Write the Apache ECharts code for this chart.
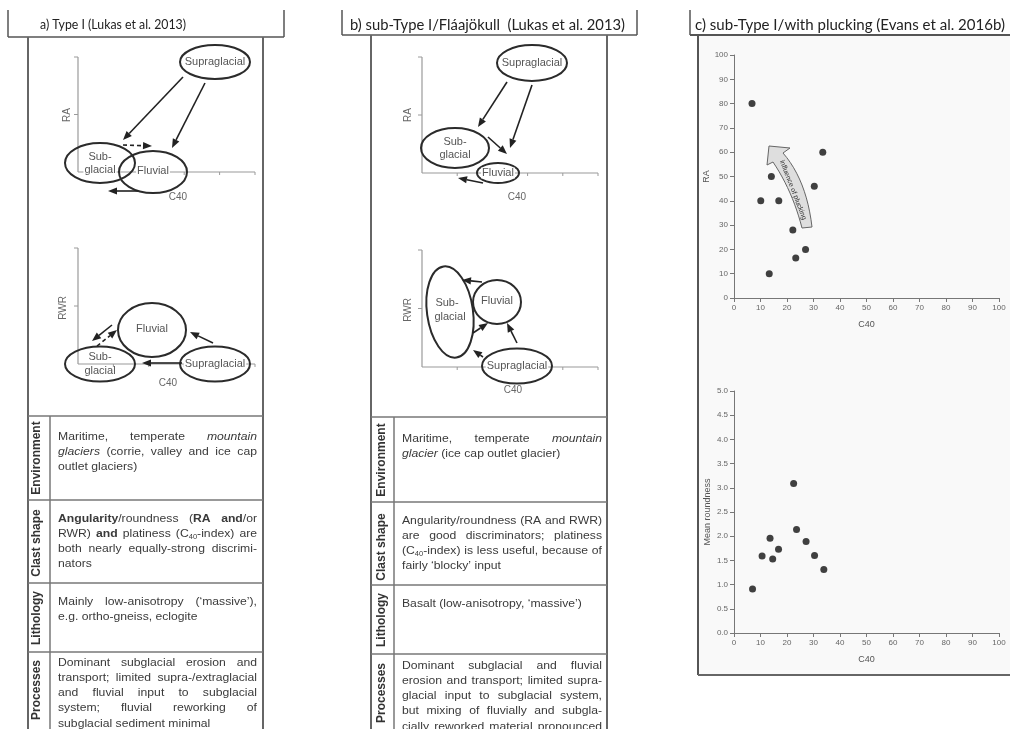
<!DOCTYPE html>
<html><head><meta charset="utf-8">
<script src="https://cdn.jsdelivr.net/npm/echarts@6/dist/echarts.min.js"></script>
<style>html,body{margin:0;padding:0;background:#fff}#c{width:1010px;height:729px}</style>
</head><body><div id="c"></div>
<script>
// ---------- data ----------
const panelTitles = ['a) Type I (Lukas et al. 2013)', 'b) sub-Type I/Fláajökull  (Lukas et al. 2013)', 'c) sub-Type I/with plucking (Evans et al. 2016b)'];
const rowLabels = ['Environment', 'Clast shape', 'Lithology', 'Processes'];
// panel c scatter values
const c40Top = [6.8, 14.1, 10.1, 16.9, 22.2, 23.3, 27.0, 13.3, 30.3, 33.5];
const raValues = [80, 50, 40, 40, 28, 16.5, 20, 10, 46, 60];
const c40Bottom = [7.0, 10.6, 13.6, 14.6, 16.8, 22.5, 23.6, 27.2, 30.4, 33.9];
const meanRoundness = [0.91, 1.59, 1.96, 1.53, 1.73, 3.09, 2.14, 1.89, 1.60, 1.31];
// tick labels
const c40Ticks = [0, 10, 20, 30, 40, 50, 60, 70, 80, 90, 100];
const raTicks = [0, 10, 20, 30, 40, 50, 60, 70, 80, 90, 100];
const roundTicks = [0.0, 0.5, 1.0, 1.5, 2.0, 2.5, 3.0, 3.5, 4.0, 4.5, 5.0];
const axisNames = {x: 'C40', yTop: 'RA', yBottom: 'Mean roundness'};
const arrowLabel = 'influence of plucking';
// table texts (# bold, * italic, ~ subscript)
const tableA = [
  ['Maritime, temperate *mountain*', '*glaciers* (corrie, valley and ice cap', 'outlet glaciers)'],
  ['#Angularity#/roundness (#RA and#/or', 'RWR) #and# platiness (C~40~-index) are', 'both nearly equally-strong discrimi-', 'nators'],
  ['Mainly low-anisotropy (‘massive’),', 'e.g. ortho-gneiss, eclogite'],
  ['Dominant subglacial erosion and', 'transport; limited supra-/extraglacial', 'and fluvial input to subglacial', 'system; fluvial reworking of', 'subglacial sediment minimal']
];
const tableB = [
  ['Maritime, temperate *mountain*', '*glacier* (ice cap outlet glacier)'],
  ['Angularity/roundness (RA and RWR)', 'are good discriminators; platiness', '(C~40~-index) is less useful, because of', 'fairly ‘blocky’ input'],
  ['Basalt (low-anisotropy, ‘massive’)'],
  ['Dominant subglacial and fluvial', 'erosion and transport; limited supra-', 'glacial input to subglacial system,', 'but mixing of fluvially and subgla-', 'cially reworked material pronounced']
];

// ---------- drawing helpers ----------
const FONT = '"Liberation Sans", Arial, sans-serif';
const els = [];
const meas = document.createElement('canvas').getContext('2d');
function tw(font, s) { meas.font = font; return meas.measureText(s).width; }
function txt(x, y, s, o) {
  const e = {type: 'text', x: x, y: y, silent: true, z: o.z || 1,
    style: {text: s, font: o.font, fill: o.fill || '#333', textAlign: o.align || 'left', textVerticalAlign: o.valign || 'middle'}};
  if (o.rotation) e.rotation = o.rotation;
  if (o.scaleX) e.scaleX = o.scaleX;
  if (o.bg) { e.style.backgroundColor = o.bg; e.style.padding = [0, 1]; }
  els.push(e);
}
function ln(x1, y1, x2, y2, stroke, w, dash) {
  els.push({type: 'line', silent: true, z: 1, shape: {x1: x1, y1: y1, x2: x2, y2: y2},
    style: {stroke: stroke, lineWidth: w, lineDash: dash || null}});
}
function ell(cx, cy, rx, ry, rot) {
  els.push({type: 'ellipse', silent: true, z: 1, x: cx, y: cy, rotation: rot || 0,
    shape: {cx: 0, cy: 0, rx: rx, ry: ry}, style: {fill: 'none', stroke: '#2b2b2b', lineWidth: 2}});
}
function arrow(x1, y1, x2, y2, dash) {
  const dx = x2 - x1, dy = y2 - y1, L = Math.hypot(dx, dy), ux = dx / L, uy = dy / L;
  const hl = 9, hw = 3.6;
  const bx = x2 - ux * hl, by = y2 - uy * hl;
  ln(x1, y1, bx, by, '#222', 1.6, dash ? [4, 3] : null);
  els.push({type: 'polygon', silent: true, z: 1, shape: {points: [[x2, y2], [bx - uy * hw, by + ux * hw], [bx + uy * hw, by - ux * hw]]},
    style: {fill: '#222'}});
}
function diagAxes(x0, yTop, yAx, xRight) {
  ln(x0, yTop, x0, yAx, '#9a9a9a', 1.2);
  ln(x0, yAx, xRight, yAx, '#9a9a9a', 1.2);
  [yTop, (yTop + yAx) / 2].forEach(y => ln(x0 - 4, y, x0, y, '#9a9a9a', 1));
  for (let k = 1; k <= 5; k++) { const x = x0 + (xRight - x0) * k / 5; ln(x, yAx, x, yAx + 3, '#9a9a9a', 1); }
}
const DF = '11px ' + FONT;
function dLabel(x, y, s, bg) { txt(x, y, s, {font: DF, fill: '#555', align: 'center', bg: bg ? '#fff' : null, z: 2}); }
function axLabel(x, y, s, rot) { txt(x, y, s, {font: '10px ' + FONT, fill: '#666', align: 'center', rotation: rot ? Math.PI / 2 : 0}); }

// titles: font size from the text height, horizontal scale from the measured width
function title(s, x, y, width, size) {
  const f = size.toFixed(2) + 'px Lato, "Open Sans", sans-serif';
  const sc = width / tw(f, s);
  txt(x, y, s, {font: f, fill: '#222', scaleX: sc});
}

// justified table text
const TS = 10.5, TSX = 1.16;
function parseLine(str) {
  const words = []; let cur = []; let b = false, i = false, s = false, buf = '';
  const flush = () => { if (buf) { cur.push({t: buf, b: b, i: i, s: s}); buf = ''; } };
  for (const ch of str) {
    if (ch === '#') { flush(); b = !b; }
    else if (ch === '*') { flush(); i = !i; }
    else if (ch === '~') { flush(); s = !s; }
    else if (ch === ' ') { flush(); if (cur.length) { words.push(cur); cur = []; } }
    else buf += ch;
  }
  flush(); if (cur.length) words.push(cur);
  return words;
}
function runFont(r) { return (r.i ? 'italic ' : '') + (r.b ? 'bold ' : '') + (r.s ? TS * 0.62 : TS).toFixed(2) + 'px ' + FONT; }
function layoutLine(str, x0, x1, y, justify) {
  const words = parseLine(str);
  const ww = words.map(w => w.reduce((a, r) => a + tw(runFont(r), r.t), 0));
  const sum = ww.reduce((a, b) => a + b, 0);
  const sp = tw(runFont({}), ' ');
  const W = x1 - x0;
  let sc = TSX;
  if ((sum + sp * (words.length - 1)) * sc > W) sc = W / (sum + sp * (words.length - 1));
  let gap = sp * sc;
  if (justify && words.length > 1) gap = (W - sum * sc) / (words.length - 1);
  let x = x0;
  words.forEach(w => {
    w.forEach(r => {
      txt(x, y + (r.s ? 3 : 0), r.t, {font: runFont(r), fill: '#3a3a3a', scaleX: sc});
      x += tw(runFont(r), r.t) * sc;
    });
    x += gap;
  });
}
function drawTable(cells, o) {
  o.hLines.forEach(y => ln(o.left, y, o.right, y, '#777', 1.5));
  ln(o.divX, o.hLines[0], o.divX, 729, '#777', 1.5);
  cells.forEach((lines, ci) => {
    lines.forEach((line, li) => {
      const justify = li < lines.length - 1 || (o.cont && ci === cells.length - 1);
      layoutLine(line, o.x0, o.x1, o.firstY[ci] + li * 15.2, justify);
    });
    txt(o.labelX, o.labelY[ci], rowLabels[ci], {font: 'bold 12px ' + FONT, fill: '#333', align: 'center', rotation: Math.PI / 2});
  });
}

// ---------- panel a ----------
ln(8, 10, 8, 37, '#555', 1.5); ln(284, 10, 284, 37, '#555', 1.5); ln(8, 37, 284, 37, '#555', 1.5);
ln(28, 37, 28, 729, '#666', 2); ln(263, 37, 263, 729, '#666', 2);
title(panelTitles[0], 40, 24.5, 146, 13);
// top diagram
diagAxes(78, 57, 172, 255);
axLabel(67, 115, 'RA', true); axLabel(178, 197, 'C40');
ell(215, 62, 35, 17); ell(100, 163, 35, 20); ell(153, 172, 34, 21);
dLabel(215, 62, 'Supraglacial'); dLabel(100, 157, 'Sub-'); dLabel(100, 170, 'glacial', true); dLabel(153, 171, 'Fluvial', true);
arrow(183, 77, 123, 140); arrow(205, 83, 172, 148); arrow(123, 145, 152, 146, true); arrow(138, 191, 108, 191);
// bottom diagram
diagAxes(78, 248, 364, 255);
axLabel(63, 308, 'RWR', true); axLabel(168, 383, 'C40');
ell(152, 330, 34, 27); ell(100, 364, 35, 17.5); ell(215, 364, 35, 17.5);
dLabel(152, 329, 'Fluvial'); dLabel(100, 357, 'Sub-', true); dLabel(100, 371, 'glacial'); dLabel(215, 364, 'Supraglacial', true);
arrow(213, 343, 190, 332); arrow(182, 363, 142, 363); arrow(112, 325, 92, 341); arrow(97, 346, 117, 330, true);
drawTable(tableA, {left: 28, right: 263, hLines: [416, 500, 583, 652], divX: 50, x0: 58, x1: 257,
  firstY: [437, 519, 602, 663], labelX: 37, labelY: [458, 543, 618, 690]});

// ---------- panel b ----------
ln(342, 10, 342, 35, '#555', 1.5); ln(637, 10, 637, 35, '#555', 1.5); ln(342, 35, 637, 35, '#555', 1.5);
ln(371, 35, 371, 729, '#666', 2); ln(607, 35, 607, 729, '#666', 2);
title(panelTitles[1], 350, 24.5, 275, 15.5);
diagAxes(422, 57, 173, 598);
axLabel(408, 115, 'RA', true); axLabel(517, 197, 'C40');
ell(532, 63, 35, 18); ell(455, 148, 34, 20); ell(498, 173, 21, 10);
dLabel(532, 63, 'Supraglacial'); dLabel(455, 142, 'Sub-'); dLabel(455, 155, 'glacial'); dLabel(498, 173, 'Fluvial', true);
arrow(507, 82, 478, 127); arrow(532, 85, 510, 148); arrow(488, 137, 507, 154); arrow(483, 183, 458, 178);
diagAxes(422, 250, 367, 598);
axLabel(408, 310, 'RWR', true); axLabel(513, 390, 'C40');
ell(450, 312, 23, 46, 0.14); ell(497, 302, 24, 22); ell(517, 366, 35, 17.5);
dLabel(447, 303, 'Sub-'); dLabel(450, 317, 'glacial'); dLabel(497, 301, 'Fluvial'); dLabel(517, 366, 'Supraglacial', true);
arrow(482, 282, 462, 280); arrow(473, 333, 488, 323); arrow(517, 343, 507, 323); arrow(483, 357, 473, 350);
drawTable(tableB, {left: 371, right: 607, hLines: [417, 502, 585, 654], divX: 394, x0: 402, x1: 602,
  firstY: [439, 521, 604, 666], labelX: 382, labelY: [460, 547, 620, 693], cont: true});

// ---------- panel c frame ----------
els.push({type: 'rect', silent: true, z: -10, shape: {x: 698, y: 35, width: 312, height: 640}, style: {fill: '#f9f9f9'}});
ln(690, 10, 690, 35, '#555', 1.5); ln(690, 35, 1010, 35, '#555', 1.8);
ln(698, 35, 698, 675, '#555', 2); ln(698, 675, 1010, 675, '#666', 2);
title(panelTitles[2], 695, 24.5, 310, 15.5);
// curved "influence of plucking" arrow
(function () {
  const q = (p0, c, p1, t) => [(1 - t) * (1 - t) * p0[0] + 2 * (1 - t) * t * c[0] + t * t * p1[0], (1 - t) * (1 - t) * p0[1] + 2 * (1 - t) * t * c[1] + t * t * p1[1]];
  const pts = [];
  for (let k = 0; k <= 12; k++) pts.push(q([773, 162], [792.5, 191], [802, 228], k / 12));
  for (let k = 0; k <= 12; k++) pts.push(q([812, 227], [806.5, 180], [783, 153], k / 12));
  pts.push([790, 148], [769, 146], [767, 165]);
  els.push({type: 'polygon', silent: true, z: 3, shape: {points: pts}, style: {fill: '#dedede', stroke: '#666', lineWidth: 1}});
  txt(793, 190, arrowLabel, {font: '7px ' + FONT, fill: '#333', align: 'center', rotation: -1.2, z: 4});
})();

// ---------- echarts option ----------
function valAxis(gi, ticks, name, gap, fmt) {
  return {type: 'value', gridIndex: gi, min: ticks[0], max: ticks[ticks.length - 1], interval: ticks[1] - ticks[0],
    name: name, nameLocation: 'middle', nameGap: gap, nameTextStyle: {fontSize: 9, color: '#555', fontFamily: FONT},
    axisLine: {show: true, onZero: false, lineStyle: {color: '#777', width: 1}},
    axisTick: {show: true, length: 4, lineStyle: {color: '#777'}},
    axisLabel: {fontSize: 8, color: '#666', margin: 6, fontFamily: FONT, formatter: fmt},
    splitLine: {show: false}};
}
const chart = echarts.init(document.getElementById('c'), null, {renderer: 'canvas'});
chart.setOption({
  animation: false,
  backgroundColor: '#fff',
  grid: [{left: 734, top: 55, width: 265, height: 243}, {left: 734, top: 391, width: 265, height: 242}],
  xAxis: [valAxis(0, c40Ticks, axisNames.x, 22), valAxis(1, c40Ticks, axisNames.x, 22)],
  yAxis: [valAxis(0, raTicks, axisNames.yTop, 22), valAxis(1, roundTicks, axisNames.yBottom, 22, v => v.toFixed(1))],
  series: [
    {type: 'scatter', xAxisIndex: 0, yAxisIndex: 0, symbolSize: 7, itemStyle: {color: '#111'},
      data: c40Top.map((v, i) => [v, raValues[i]])},
    {type: 'scatter', xAxisIndex: 1, yAxisIndex: 1, symbolSize: 7, itemStyle: {color: '#111'},
      data: c40Bottom.map((v, i) => [v, meanRoundness[i]])}
  ],
  graphic: {elements: els}
});
</script></body></html>
